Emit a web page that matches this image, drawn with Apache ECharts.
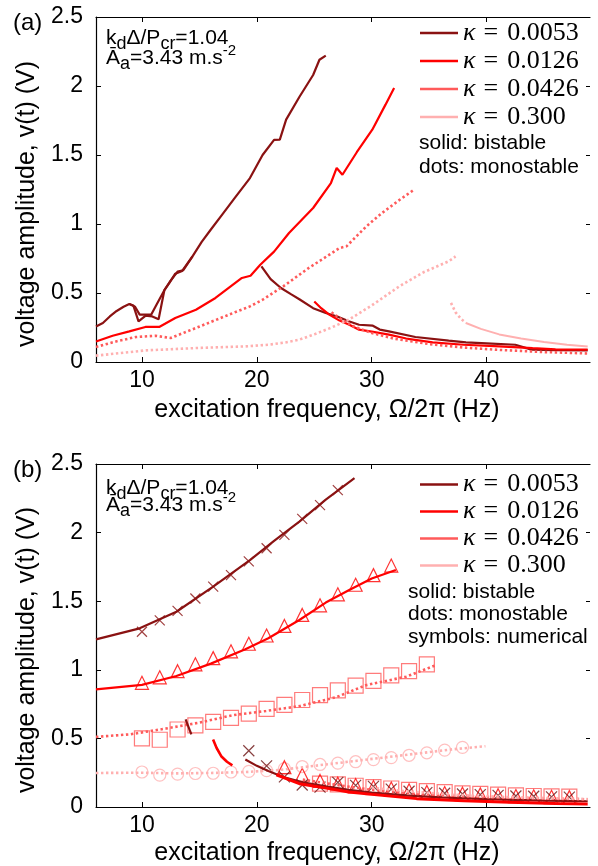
<!DOCTYPE html>
<html><head><meta charset="utf-8">
<script src="https://cdn.jsdelivr.net/npm/echarts@6/dist/echarts.min.js"></script>
<style>html,body{margin:0;padding:0;background:#fff}#c{width:598px;height:866px}</style>
</head><body><div id="c"></div>
<script>
// ---------- colours ----------
const C1 = '#8a1212', C2 = '#ff0000', C3 = '#ff5a5a', C4 = '#ffb0b0';
const kappaNames = ['κ = 0.0053', 'κ = 0.0126', 'κ = 0.0426', 'κ = 0.300'];
const xTicks = [10, 20, 30, 40];

// ---------- panel (a): experimental ----------
const a1UpA = [[6,0.258],[6.6,0.283],[7.2,0.33],[7.8,0.37],[8.4,0.40],[8.9,0.42],[9.25,0.41],[9.7,0.295],[10.3,0.335],[10.9,0.33],[11.45,0.31],[11.95,0.52],[12.5,0.59],[13.1,0.655],[13.6,0.665],[14.4,0.765],[15.2,0.87],[16,0.96],[17,1.07],[18,1.18],[19.4,1.333],[20.5,1.50],[21.5,1.61],[22,1.612],[22.55,1.756],[23.7,1.92],[24.9,2.08],[25.45,2.19],[26,2.22]];
const a1UpB = [[8.9,0.42],[9.4,0.40],[9.8,0.343],[10.8,0.343],[11.3,0.42],[11.95,0.52],[12.4,0.575],[12.9,0.64],[13.5,0.66],[14.4,0.765]];
const a1Low = [[20.4,0.693],[21.2,0.60],[22.1,0.536],[23,0.49],[23.7,0.455],[24.9,0.39],[26,0.355],[27,0.33],[28,0.295],[28.9,0.27],[30.1,0.263],[30.7,0.235],[31.5,0.222],[33.8,0.181],[36.7,0.155],[38.2,0.142],[40,0.135],[42.5,0.125],[43.9,0.09],[46,0.086],[48.8,0.084]];
const a2Up = [[6,0.149],[7.45,0.19],[8.9,0.222],[10.3,0.254],[11.5,0.254],[12.9,0.319],[14.7,0.379],[16.4,0.464],[18.7,0.609],[19.45,0.625],[20.3,0.705],[21.5,0.8],[22.8,0.935],[24.9,1.116],[26.45,1.297],[26.95,1.406],[27.45,1.357],[28.7,1.52],[30.05,1.683],[31.2,1.865],[31.95,1.986]];
const a2Low = [[25,0.439],[25.6,0.39],[26.3,0.343],[27.2,0.30],[28.05,0.27],[28.9,0.234],[30,0.22],[31.5,0.198],[33,0.17],[35.3,0.142],[38,0.125],[41.1,0.113],[44,0.1],[46,0.092],[48.8,0.089]];
const a3Up = [[6,0.109],[7.74,0.149],[9.47,0.181],[11.2,0.19],[12.5,0.174],[14.68,0.246],[17.57,0.343],[19.4,0.403],[20.5,0.451],[22.3,0.548],[24.5,0.68],[27.2,0.826],[27.8,0.838],[29.5,0.98],[30.9,1.08],[32.5,1.18],[33.7,1.249]];
const a3Low = [[26.5,0.36],[27.5,0.30],[28.5,0.255],[30,0.21],[32,0.168],[35,0.13],[38,0.105],[41,0.088],[45,0.072],[48.8,0.062]];
const a4Up = [[6,0.046],[10.3,0.084],[14.7,0.101],[19,0.113],[21,0.125],[22.5,0.142],[23.7,0.162],[25,0.2],[26.5,0.25],[28,0.306],[30,0.41],[32.4,0.548],[34.5,0.65],[36.7,0.73],[37.3,0.765]];
const a4LowDot = [[36.9,0.428],[37.3,0.36],[37.8,0.31],[38.2,0.283]];
const a4LowSolid = [[38.2,0.283],[39.5,0.24],[41.1,0.2],[43,0.17],[45,0.145],[47,0.125],[48.8,0.113]];

// ---------- panel (b): analytical curves ----------
const b1Up = [[6,1.222],[9.8,1.302],[13,1.423],[16.2,1.606],[19.4,1.8],[21.5,1.94],[23.7,2.08],[26,2.24],[28.5,2.397]];
const b2Up = [[6,0.857],[10,0.89],[13,0.955],[16,1.045],[19,1.15],[21,1.23],[23.7,1.363],[26,1.49],[28,1.58],[30,1.665],[32.1,1.728]];
const b3Up = [[6,0.511],[9,0.53],[12.1,0.572],[15,0.615],[17.9,0.669],[20.8,0.7],[23.7,0.735],[26.9,0.8],[29.5,0.888],[33,0.95],[35.6,1.034]];
const b4Up = [[6,0.248],[10,0.25],[13,0.245],[16,0.248],[19,0.255],[22,0.27],[25,0.3],[28,0.33],[31,0.36],[34,0.39],[37,0.42],[39.9,0.443]];
const b1Mid = [[13.8,0.638],[14.3,0.53]];
const b2Mid = [[16.19,0.492],[16.5,0.43],[16.9,0.37],[17.4,0.33],[17.87,0.304]];
const b1Low = [[19.0,0.346],[20,0.3],[21,0.262],[22.3,0.219],[24,0.18],[26,0.15],[28,0.125],[30,0.105],[33,0.085],[36,0.07],[40,0.058],[45,0.047],[48.8,0.042]];
const b2Low = [[21.7,0.235],[23.7,0.17],[26.3,0.134],[28,0.11],[30,0.092],[33.9,0.061],[38,0.045],[42,0.034],[46,0.026],[48.8,0.022]];
const b3Low = [[24,0.2],[27,0.16],[30,0.125],[34,0.095],[38,0.078],[42,0.067],[46,0.06],[48.8,0.056]];
const b4Low = [[30,0.14],[33,0.115],[37,0.09],[42,0.072],[48.8,0.058]];

// ---------- panel (b): numerical symbols ----------
const freqSym = [10,11.55,13.1,14.65,16.2,17.75,19.3,20.85,22.4,23.95,25.5,27.05,28.6,30.15,31.7,33.25,34.8,36.35,37.9,39.45,41,42.55,44.1,45.65,47.2];
const crossUp = [1.277,1.36,1.43,1.52,1.606,1.69,1.79,1.886,1.983,2.1,2.2,2.31];
const triUp = [0.905,0.945,0.99,1.04,1.085,1.135,1.19,1.25,1.32,1.4,1.47,1.55,1.62,1.69,1.76];
const sqUp = [0.50,0.49,0.565,0.595,0.62,0.65,0.68,0.715,0.745,0.78,0.815,0.85,0.885,0.92,0.96,0.99,1.04];
const circUp = [0.255,0.232,0.24,0.244,0.246,0.255,0.26,0.265,0.28,0.295,0.31,0.32,0.33,0.345,0.36,0.377,0.395,0.415,0.435];
const crossLow = [0.41,0.30,0.22,0.16,0.145,0.18,0.158,0.15,0.13,0.115,0.105,0.1,0.095,0.09,0.085,0.08,0.078,0.074,0.072];  // from 19.3 Hz
const triLow = [0.29,0.235,0.19,0.17,0.16,0.145,0.135,0.122,0.11,0.102,0.097,0.092,0.086,0.08,0.078,0.074,0.072];             // from 22.4 Hz
const sqLow = [0.17,0.165,0.155,0.145,0.135,0.125,0.115,0.108,0.1,0.095,0.09,0.085,0.08,0.077,0.075];                          // from 25.5 Hz

function pts(start, vals) { return vals.map((v, i) => [freqSym[start + i], v]); }

function curve(data, color, dotted, g, width) {
  return {
    type: 'line', data: data, xAxisIndex: g * 2, yAxisIndex: g * 2,
    symbol: 'none', silent: true, animation: false, z: 3,
    lineStyle: { color: color, width: width || (dotted ? 2.6 : 2.2), type: dotted ? [2.4, 2.6] : 'solid', cap: 'butt' }
  };
}
const CROSS = 'path://M0,0L10,10M10,0L0,10';
function marks(data, symbol, size, color) {
  return {
    type: 'scatter', data: data, xAxisIndex: 2, yAxisIndex: 2, symbol: symbol, symbolSize: size,
    silent: true, animation: false, z: 2,
    itemStyle: { color: 'rgba(0,0,0,0)', borderColor: color, borderWidth: 1.2 }
  };
}

const series = [
  curve(a1UpA, C1, false, 0), curve(a1UpB, C1, false, 0), curve(a1Low, C1, false, 0),
  curve(a2Up, C2, false, 0), curve(a2Low, C2, false, 0),
  curve(a3Up, C3, true, 0), curve(a3Low, C3, true, 0),
  curve(a4Up, C4, true, 0), curve(a4LowDot, C4, true, 0), curve(a4LowSolid, C4, false, 0, 2),
  curve(b1Up, C1, false, 1), curve(b2Up, C2, false, 1), curve(b3Up, C3, true, 1), curve(b4Up, C4, true, 1),
  curve(b1Mid, C1, false, 1), curve(b2Mid, C2, false, 1, 2.6),
  curve(b1Low, C1, false, 1), curve(b2Low, C2, false, 1, 3), curve(b3Low, C3, true, 1), curve(b4Low, C4, true, 1),
  marks(pts(0, circUp), 'circle', 12, C4),
  marks(pts(0, sqUp), 'rect', 15, C3),
  marks(pts(10, sqLow), 'rect', 15, C3),
  marks(pts(0, triUp), 'triangle', 13, C2),
  marks(pts(8, triLow), 'triangle', 13, C2),
  marks(pts(0, crossUp), CROSS, 10, C1),
  marks(pts(6, crossLow), CROSS, 11, '#6a1010')
];
// legend-only series (solid samples)
[C1, C2, C3, C4].forEach((c, i) => series.push({
  type: 'line', name: kappaNames[i], data: [], xAxisIndex: 0, yAxisIndex: 0, symbol: 'none',
  lineStyle: { color: c, width: 2.6 }, itemStyle: { color: c }
}));

const SANS = 'Liberation Sans';
const tickFont = { fontFamily: SANS, fontSize: 23, color: '#000' };
const grids = [
  { left: 96, top: 17, width: 494, height: 345 },
  { left: 96, top: 464, width: 494, height: 343 }
];
const xAxes = [], yAxes = [];
[0, 1].forEach(g => {
  xAxes.push({ type: 'value', gridIndex: g, min: 6, max: 49, position: 'bottom',
    axisLine: { show: true, onZero: false, lineStyle: { color: '#000', width: 1.2 } },
    axisTick: { show: true, inside: true, length: 5, customValues: xTicks, lineStyle: { color: '#000' } },
    axisLabel: { show: true, customValues: xTicks, margin: 7, ...tickFont },
    splitLine: { show: false } });
  xAxes.push({ type: 'value', gridIndex: g, min: 6, max: 49, position: 'top',
    axisLine: { show: true, onZero: false, lineStyle: { color: '#000', width: 1.2 } },
    axisTick: { show: true, inside: true, length: 5, customValues: xTicks, lineStyle: { color: '#000' } },
    axisLabel: { show: false }, splitLine: { show: false } });
  yAxes.push({ type: 'value', gridIndex: g, min: 0, max: 2.5, interval: 0.5, position: 'left',
    axisLine: { show: true, onZero: false, lineStyle: { color: '#000', width: 1.2 } },
    axisTick: { show: true, inside: true, length: 5, lineStyle: { color: '#000' } },
    axisLabel: { show: true, margin: 13, ...tickFont }, splitLine: { show: false } });
  yAxes.push({ type: 'value', gridIndex: g, min: 0, max: 2.5, interval: 0.5, position: 'right',
    axisLine: { show: false },
    axisTick: { show: true, inside: true, length: 4, lineStyle: { color: '#000' } },
    axisLabel: { show: false }, splitLine: { show: false } });
});

const legendRich = {
  k: { fontFamily: 'Liberation Serif', fontStyle: 'italic', fontSize: 26, color: '#000' },
  e: { fontFamily: 'Liberation Serif', fontSize: 26, color: '#000', padding: [0, 9, 0, 8] },
  n: { fontFamily: 'Liberation Serif', fontSize: 26, color: '#000' }
};
function legend(top, lh) {
  const rich = {};
  Object.keys(legendRich).forEach(k => rich[k] = { ...legendRich[k], lineHeight: lh });
  return {
    data: kappaNames.map(n => ({ name: n, icon: 'rect' })), left: 420, top: top, orient: 'vertical', itemGap: 0,
    itemWidth: 38, itemHeight: 2.6, selectedMode: false, padding: 0,
    textStyle: { rich: rich, lineHeight: lh, padding: [0, 0, 0, 0] },
    formatter: n => '{k|κ}{e|=}{n|' + n.split('= ')[1] + '}'
  };
}

function txt(x, y, s, size, extra) {
  return { type: 'text', x: x, y: y, silent: true,
    style: Object.assign({ text: s, fontFamily: SANS, fontSize: size, fill: '#000', align: 'left', verticalAlign: 'middle' }, extra || {}) };
}
const annRich = {
  m: { fontFamily: SANS, fontSize: 21, lineHeight: 30, verticalAlign: 'middle', fill: '#000' },
  s: { fontFamily: SANS, fontSize: 18, lineHeight: 17, verticalAlign: 'bottom', fill: '#000' },
  p: { fontFamily: SANS, fontSize: 15, lineHeight: 15, verticalAlign: 'top', fill: '#000' }
};
function ann(x, y1, y2) {
  return [
    { type: 'text', x: x, y: y1, silent: true, style: { text: '{m|k}{s|d}{m|Δ/P}{s|cr}{m|=1.04}', rich: annRich, verticalAlign: 'middle' } },
    { type: 'text', x: x, y: y2, silent: true, style: { text: '{m|Ā}{s|a}{m|=3.43 m.s}{p|-2}', rich: annRich, verticalAlign: 'middle' } }
  ];
}
const graphics = [
  txt(13, 23, '(a)', 24), txt(13, 470, '(b)', 24),
  txt(327, 410, 'excitation frequency, Ω/2π (Hz)', 25, { align: 'center' }),
  txt(327, 853, 'excitation frequency, Ω/2π (Hz)', 25, { align: 'center' }),
  { type: 'text', x: 27, y: 204, rotation: Math.PI / 2, silent: true,
    style: { text: 'voltage amplitude, v(t) (V)', fontFamily: SANS, fontSize: 25, fill: '#000', align: 'center', verticalAlign: 'middle' } },
  { type: 'text', x: 27, y: 650, rotation: Math.PI / 2, silent: true,
    style: { text: 'voltage amplitude, v(t) (V)', fontFamily: SANS, fontSize: 25, fill: '#000', align: 'center', verticalAlign: 'middle' } },
  ...ann(106, 38, 58), ...ann(106, 488, 505),
  txt(419, 143, 'solid: bistable', 21), txt(419, 167, 'dots: monostable', 21),
  txt(408, 592, 'solid: bistable', 21), txt(408, 614, 'dots: monostable', 21), txt(408, 637, 'symbols: numerical', 21)
];

const chart = echarts.init(document.getElementById('c'), null, { renderer: 'canvas' });
chart.setOption({
  animation: false, backgroundColor: '#fff',
  grid: grids, xAxis: xAxes, yAxis: yAxes,
  legend: [legend(19, 28), legend(471, 27)],
  series: series, graphic: graphics
});
</script></body></html>
